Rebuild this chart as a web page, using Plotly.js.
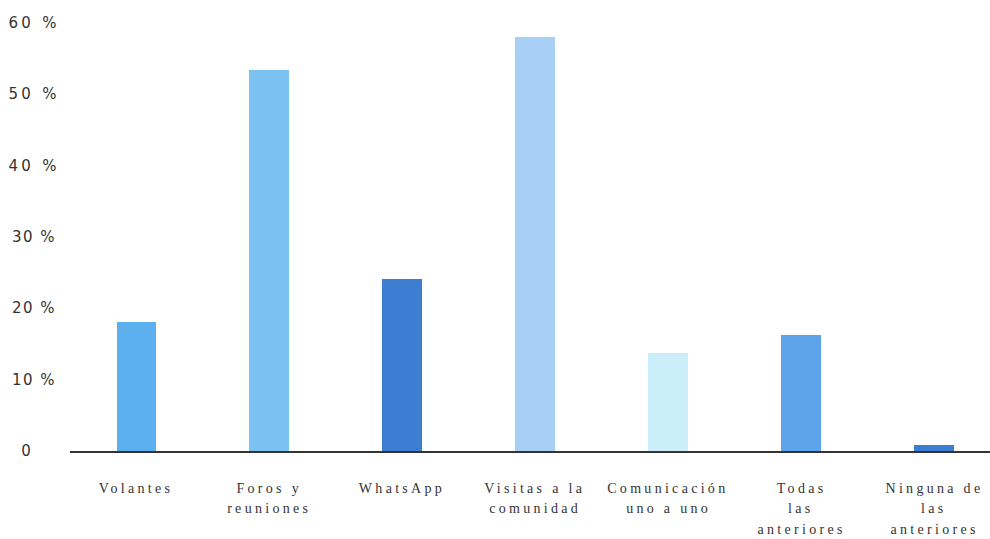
<!DOCTYPE html>
<html>
<head>
<meta charset="utf-8">
<script src="https://cdn.plot.ly/plotly-3.0.1.min.js"></script>
<style>
html,body{margin:0;padding:0;background:#fff;}
#chart .annotation text{letter-spacing:3.3px;}
#chart .annotation:nth-child(-n+7) text{letter-spacing:1.5px;}
</style>
</head>
<body>
<div id="chart" style="width:990px;height:539px;"></div>
<script>
const categories = ["Volantes","Foros y<br>reuniones","WhatsApp","Visitas a la<br>comunidad","Comunicación<br>uno a uno","Todas<br>las<br>anteriores","Ninguna de<br>las<br>anteriores"];
const values = [18.1, 53.4, 24.1, 58.0, 13.7, 16.3, 0.8];
const barColors = ["#5DB0EE","#7CC2F0","#3E7ED2","#A8D0F6","#CBEEFB","#5CA3EA","#3C7FD2"];
const yTickVals = [0, 10, 20, 30, 40, 50, 60];
const yTickText = ["0","10 %","20 %","30 %","40 %","50 %","60 %"];

const xIdx = categories.map((c,i)=>i);
const trace = {
  type: 'bar',
  x: xIdx,
  y: values,
  marker: {color: barColors},
  width: 0.3,
  hoverinfo: 'none'
};

const annotations = yTickVals.map((v,i)=>({
  xref:'paper', yref:'y', x:0, y:v, xshift:(v===0 ? -50 : -57), xanchor:'left', yanchor:'middle',
  text: yTickText[i], showarrow:false,
  font:{family:'DejaVu Sans, Verdana, sans-serif', size:15, color:'#333'}
}));

categories.forEach((c,i)=>{
  c.split('<br>').forEach((line,k)=>{
    annotations.push({
      xref:'x', yref:'paper', x:i, y:0, yshift:-37-20.5*k, xanchor:'center', yanchor:'middle',
      text: line, showarrow:false,
      font:{family:'Liberation Serif, Times New Roman, serif', size:14, color:'#333'}
    });
  });
});

const layout = {
  width: 990, height: 539,
  margin: {l:70, r:0, t:23, b:88},
  paper_bgcolor:'#fff', plot_bgcolor:'#fff',
  showlegend:false,
  bargap: 0,
  xaxis: {
    range: [-0.5, 6.42],
    tickvals: xIdx,
    showticklabels:false,
    showgrid:false, zeroline:false,
    showline:true, linecolor:'#333', linewidth:2,
    ticks:''
  },
  yaxis: {
    range: [0, 60],
    tickvals: yTickVals,
    showticklabels:false,
    showgrid:false, zeroline:false, showline:false
  },
  annotations: annotations
};

Plotly.newPlot('chart', [trace], layout, {displayModeBar:false, staticPlot:true});
</script>
</body>
</html>
